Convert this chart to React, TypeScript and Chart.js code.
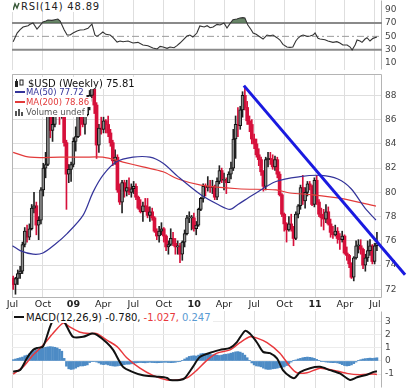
import React, { useEffect, useRef } from "react";
import { Chart, registerables } from "chart.js";
Chart.register(...registerables);

const FONT = '"DejaVu Sans", Verdana, sans-serif';

// ---------------- axis / category data ----------------
const START_DATE = "2008-07-01";
const FIRST_BAR_DATE = "2008-07-03";
const tickDates = ["2008-07-01", "2008-10-01", "2009-01-01", "2009-04-01", "2009-07-01", "2009-10-01", "2010-01-01", "2010-04-01", "2010-07-01", "2010-10-01", "2011-01-01", "2011-04-01", "2011-07-01"];
const tickLabels = ["Jul", "Oct", "09", "Apr", "Jul", "Oct", "10", "Apr", "Jul", "Oct", "11", "Apr", "Jul"];
const priceTicks = [72, 74, 76, 78, 80, 82, 84, 86, 88];
const rsiTicks = [10, 30, 50, 70, 90];
const macdTicks = [-1, 0, 1, 2, 3];

// ---------------- weekly candles ($USD) ----------------
const opens = [
  72.9, 72.4, 72.9, 73.3, 73.5, 75.7, 76.8, 76.3, 77.0, 78.7,
  78.9, 77.3, 77.7, 80.2, 82.0, 82.3, 86.4, 85.1, 85.6, 86.8,
  87.9, 86.4, 87.2, 84.1, 81.5, 81.9, 82.3, 84.2, 84.6, 86.3,
  86.0, 85.6, 86.4, 87.5, 88.0, 88.6, 87.2, 83.9, 85.3, 85.2,
  85.9, 85.6, 84.9, 84.1, 82.6, 82.9, 80.2, 79.2, 80.8, 80.1,
  80.4, 80.0, 80.3, 80.5, 79.6, 78.7, 78.4, 78.9, 78.8, 78.1,
  78.4, 77.9, 76.8, 76.4, 76.8, 77.0, 76.4, 75.5, 75.7, 76.2,
  75.8, 75.5, 75.6, 74.9, 75.9, 76.6, 77.9, 77.9, 77.9, 77.0,
  77.3, 78.6, 79.5, 80.5, 80.4, 80.5, 80.4, 80.4, 79.6, 80.9,
  81.8, 81.0, 81.0, 80.8, 81.5, 82.0, 84.4, 85.6, 85.5, 86.8,
  88.0, 87.0, 85.9, 85.6, 84.4, 84.0, 83.1, 82.7, 81.7, 80.5,
  82.7, 82.8, 82.7, 82.1, 82.7, 81.5, 79.8, 78.2, 77.4, 76.9,
  77.4, 77.0, 76.2, 78.2, 78.9, 80.4, 79.3, 80.0, 80.7, 80.5,
  79.0, 81.0, 79.2, 78.2, 77.9, 77.8, 78.4, 77.4, 76.7, 76.5,
  76.8, 76.2, 76.1, 76.4, 75.0, 74.8, 74.1, 73.0, 74.6, 75.6,
  75.6, 75.3, 74.0, 74.6, 75.2, 75.6, 74.3, 75.6,
];
const highs = [
  73.1, 73.0, 73.6, 73.9, 75.9, 77.1, 77.3, 77.4, 79.0, 80.0,
  79.2, 78.0, 80.4, 82.4, 83.3, 87.3, 87.0, 86.6, 87.6, 88.4,
  88.0, 88.0, 87.4, 84.3, 82.3, 82.5, 84.5, 85.4, 86.5, 86.7,
  87.0, 86.6, 88.0, 88.4, 89.0, 88.8, 87.4, 85.6, 86.2, 86.2,
  86.0, 86.3, 85.2, 84.3, 83.5, 83.1, 80.7, 81.0, 81.0, 81.0,
  81.2, 80.7, 80.9, 80.7, 79.7, 79.4, 79.2, 79.5, 79.5, 78.8,
  78.7, 78.0, 77.0, 77.2, 77.5, 77.1, 76.5, 76.0, 77.0, 76.7,
  76.2, 76.0, 75.8, 76.0, 76.9, 78.1, 78.4, 78.1, 78.3, 77.6,
  78.7, 79.6, 80.7, 80.7, 81.3, 81.0, 81.0, 80.6, 81.2, 82.2,
  82.0, 81.6, 81.2, 81.7, 82.5, 85.2, 86.3, 87.0, 87.1, 88.3,
  88.7, 87.5, 86.3, 86.0, 84.8, 84.4, 83.6, 82.9, 81.8, 82.9,
  83.3, 83.3, 83.1, 83.0, 82.9, 81.7, 79.9, 78.3, 77.5, 78.0,
  78.2, 77.2, 78.4, 79.0, 80.6, 81.4, 80.4, 80.9, 80.9, 80.6,
  81.2, 81.4, 79.4, 78.7, 78.6, 79.0, 78.8, 77.8, 77.2, 77.3,
  77.1, 76.6, 76.8, 76.5, 75.5, 74.9, 74.2, 74.7, 76.0, 76.1,
  76.1, 75.4, 74.9, 76.0, 76.1, 75.7, 75.8, 76.7,
];
const lows = [
  72.0, 71.6, 72.4, 72.9, 73.3, 75.5, 75.9, 76.1, 76.9, 78.3,
  76.5, 76.1, 77.4, 79.7, 81.2, 82.2, 84.5, 84.2, 85.4, 86.6,
  85.6, 86.1, 83.8, 78.6, 80.8, 80.9, 82.1, 83.4, 84.5, 84.7,
  85.4, 84.8, 86.3, 86.8, 87.8, 86.5, 82.8, 83.3, 84.8, 84.9,
  84.9, 84.6, 83.8, 82.2, 82.3, 80.0, 79.0, 78.3, 79.6, 79.7,
  79.8, 79.6, 79.9, 79.4, 78.6, 78.3, 77.6, 78.4, 77.9, 77.6,
  77.7, 76.7, 76.1, 75.9, 76.5, 75.9, 75.2, 74.9, 75.6, 75.6,
  74.9, 74.9, 74.2, 74.4, 75.5, 76.5, 77.5, 76.9, 76.8, 76.5,
  77.2, 78.5, 79.2, 79.7, 80.1, 80.0, 79.9, 79.4, 79.4, 80.7,
  80.8, 80.2, 79.9, 80.8, 81.1, 81.8, 82.8, 84.6, 85.2, 86.2,
  86.8, 85.6, 85.0, 84.0, 83.6, 82.9, 82.2, 81.4, 80.1, 80.2,
  82.1, 82.3, 81.9, 81.8, 81.2, 79.7, 78.0, 76.8, 75.9, 76.8,
  76.8, 75.6, 76.1, 77.9, 78.6, 79.0, 78.7, 79.7, 80.2, 78.9,
  78.8, 79.0, 78.0, 77.2, 76.9, 77.5, 77.3, 76.3, 76.2, 76.4,
  75.8, 75.3, 75.9, 74.9, 74.4, 73.8, 72.9, 72.7, 74.5, 75.0,
  74.9, 73.7, 73.5, 74.3, 74.8, 74.1, 74.1, 75.2,
];
const closes = [
  72.4, 72.9, 73.3, 73.5, 75.7, 76.8, 76.3, 77.0, 78.7, 78.9,
  77.3, 77.7, 80.2, 82.0, 82.3, 86.4, 85.1, 85.6, 86.8, 87.9,
  86.4, 87.2, 84.1, 81.5, 81.9, 82.3, 84.2, 84.6, 86.3, 86.0,
  85.6, 86.4, 87.5, 88.0, 88.6, 87.2, 83.9, 85.3, 85.2, 85.9,
  85.6, 84.9, 84.1, 82.6, 82.9, 80.2, 79.2, 80.8, 80.1, 80.4,
  80.0, 80.3, 80.5, 79.6, 78.7, 78.4, 78.9, 78.8, 78.1, 78.4,
  77.9, 76.8, 76.4, 76.8, 77.0, 76.4, 75.5, 75.7, 76.2, 75.8,
  75.5, 75.6, 74.9, 75.9, 76.6, 77.9, 77.9, 77.9, 77.0, 77.3,
  78.6, 79.5, 80.5, 80.4, 80.5, 80.4, 80.4, 79.6, 80.9, 81.8,
  81.0, 81.0, 80.8, 81.5, 82.0, 84.4, 85.6, 85.5, 86.8, 88.0,
  87.0, 85.9, 85.6, 84.4, 84.0, 83.1, 82.7, 81.7, 80.5, 82.7,
  82.8, 82.7, 82.1, 82.7, 81.5, 79.8, 78.2, 77.4, 76.9, 77.4,
  77.0, 76.2, 78.2, 78.9, 80.4, 79.3, 80.0, 80.7, 80.5, 79.0,
  81.0, 79.2, 78.2, 77.9, 77.8, 78.4, 77.4, 76.7, 76.5, 76.8,
  76.2, 76.1, 76.4, 75.0, 74.8, 74.1, 73.0, 74.6, 75.6, 75.6,
  75.3, 74.0, 74.6, 75.2, 75.6, 74.3, 75.6, 75.81,
];

// ---------------- moving averages (day offset, value) ----------------
const ma50Days = [0, 23, 62, 92, 128, 165, 213, 243, 273, 313, 364, 415, 455, 500, 569, 621, 657, 681, 727, 796, 869, 932, 983, 1023, 1065, 1098];
const ma50Values = [75.6, 75.2, 74.9, 75.0, 75.7, 76.6, 78.1, 80.0, 81.4, 82.5, 82.9, 82.9, 82.4, 81.3, 79.8, 79.0, 78.6, 79.0, 79.8, 80.9, 81.3, 81.4, 81.1, 80.3, 78.7, 77.72];
const ma200Days = [2, 53, 144, 213, 273, 334, 394, 455, 500, 569, 681, 796, 838, 908, 992, 1098];
const ma200Values = [83.3, 82.9, 82.9, 82.9, 82.9, 82.5, 82.1, 81.7, 81.1, 80.6, 80.3, 80.2, 79.95, 79.8, 79.5, 78.86];

// trend line (day offset, value)
const trendDays = [699, 1186];
const trendValues = [88.8, 73.2];

// ---------------- RSI(14) ----------------
const rsiDays = [2, 14, 23, 32, 47, 53, 62, 74, 83, 92, 101, 107, 119, 128, 137, 144, 156, 165, 174, 183, 195, 204, 216, 228, 240, 249, 255, 264, 273, 282, 295, 304, 316, 325, 334, 349, 364, 379, 394, 409, 424, 437, 446, 455, 467, 476, 488, 497, 506, 515, 527, 536, 545, 557, 566, 579, 588, 597, 606, 618, 627, 639, 648, 657, 666, 678, 687, 696, 702, 711, 721, 727, 736, 748, 757, 769, 778, 787, 799, 808, 817, 829, 838, 847, 856, 863, 872, 878, 890, 899, 908, 914, 923, 929, 944, 953, 968, 980, 989, 998, 1011, 1020, 1026, 1035, 1041, 1050, 1056, 1065, 1071, 1080, 1089, 1101];
const rsiValues = [42, 55, 60, 64, 66, 68, 70, 61, 66, 71.5, 73, 74.5, 74, 75, 76, 73, 60, 52, 52, 55, 58, 59.5, 60, 62, 68.5, 52, 50, 53, 56.5, 53, 52, 48, 41.5, 43, 42, 43, 40, 41, 37, 36, 32.5, 31, 35, 34, 32, 34, 33, 36, 40, 44.5, 50.5, 52, 49, 55, 65.5, 64, 66, 63, 64, 68, 67, 70, 62.5, 69, 75, 76, 77.5, 78, 77.5, 67, 60, 55, 53, 49, 46, 52, 51, 52, 48, 44.5, 38, 34, 33.5, 34, 43, 47.5, 51, 52, 50, 50.5, 52, 55, 47, 46, 45, 43, 41, 42, 40, 37, 37, 34, 29.5, 37, 44.5, 43, 41, 46, 48, 43, 47, 48.89];

// ---------------- MACD(12,26,9) ----------------
const macdDays = [2, 23, 44, 62, 74, 92, 113, 122, 137, 150, 159, 165, 183, 213, 240, 255, 285, 304, 334, 364, 394, 437, 467, 476, 506, 521, 545, 566, 606, 627, 657, 678, 702, 717, 739, 757, 778, 799, 817, 839, 853, 869, 899, 929, 959, 989, 1020, 1041, 1071, 1089, 1101];
const macdValues = [-0.82, -0.69, 0.23, 0.84, 1.0, 1.1, 2.6, 3.1, 3.4, 3.2, 2.9, 2.6, 1.85, 1.85, 2.1, 2.0, 1.4, 0.85, -0.45, -0.85, -1.1, -1.2, -1.3, -1.45, -1.45, -1.3, -0.45, 0.3, 0.7, 0.85, 1.0, 1.45, 2.3, 2.1, 1.4, 0.7, 0.6, 0.2, -0.7, -1.2, -1.3, -0.85, -0.55, -0.45, -0.7, -0.95, -1.45, -1.25, -1.05, -0.85, -0.78];
const signalDays = [2, 32, 62, 92, 122, 153, 174, 204, 234, 255, 285, 316, 346, 385, 424, 467, 497, 527, 557, 588, 618, 657, 687, 717, 739, 769, 808, 839, 859, 890, 929, 968, 1010, 1050, 1089, 1101];
const signalValues = [-1.0, -0.45, 0.45, 1.2, 2.1, 2.9, 2.6, 2.2, 2.1, 2.1, 1.6, 1.1, 0.23, -0.55, -1.1, -1.45, -1.45, -1.3, -0.7, 0.07, 0.6, 0.85, 1.4, 1.85, 1.75, 1.4, 0.6, -0.45, -0.9, -0.9, -0.55, -0.7, -0.95, -1.05, -1.0, -1.03];
const histValues = [
  0.1, 0.15, 0.2, 0.25, 0.3, 0.4, 0.45, 0.55, 0.7, 0.78,
  0.85, 0.9, 0.95, 1.0, 1.05, 1.08, 1.1, 1.08, 1.05, 1.0,
  0.9, 0.75, 0.2, -0.4, -0.6, -0.65, -0.62, -0.55, -0.45, -0.38,
  -0.38, -0.35, -0.3, -0.12, -0.05, -0.03, -0.08, -0.15, -0.25, -0.28,
  -0.25, -0.3, -0.35, -0.38, -0.4, -0.38, -0.35, -0.3, -0.28, -0.25,
  -0.25, -0.22, -0.2, -0.15, -0.13, -0.12, -0.13, -0.14, -0.12, -0.1,
  -0.12, -0.13, -0.14, -0.13, -0.12, -0.1, -0.1, -0.12, -0.13, -0.12,
  -0.1, -0.06, -0.02, 0.05, 0.15, 0.25, 0.35, 0.38, 0.4, 0.38,
  0.45, 0.55, 0.58, 0.56, 0.55, 0.5, 0.48, 0.5, 0.45, 0.42,
  0.45, 0.5, 0.52, 0.55, 0.6, 0.65, 0.7, 0.72, 0.68, 0.6,
  0.45, 0.25, 0.05, -0.15, -0.3, -0.38, -0.4, -0.45, -0.55, -0.62,
  -0.65, -0.64, -0.6, -0.58, -0.55, -0.5, -0.5, -0.45, -0.35, -0.2,
  -0.08, 0.02, 0.08, 0.15, 0.2, 0.25, 0.28, 0.3, 0.28, 0.25,
  0.2, 0.12, 0.05, -0.02, -0.05, -0.08, -0.1, -0.12, -0.13, -0.12,
  -0.15, -0.2, -0.28, -0.35, -0.38, -0.36, -0.3, -0.2, -0.08, 0.02,
  0.1, 0.15, 0.18, 0.2, 0.22, 0.2, 0.22, 0.247,
];

// ---------------- helpers ----------------
const DAY_MS = 86400000;
const dayOf = (d: string) => (Date.parse(d) - Date.parse(START_DATE)) / DAY_MS;
const barDay = (i: number) => dayOf(FIRST_BAR_DATE) + 7 * i;
const tickDays = tickDates.map(dayOf);
const isYearLabel = (i: number) => /^\d\d$/.test(tickLabels[i] || "");
const X_MIN = -1.5;
const X_MAX = 1116.3;
const zip = (xs: number[], ys: number[]) => xs.map((x, i) => ({ x, y: ys[i] }));

const GRID = "#dedede";
const RED = "#d6103b";
const MA50_COLOR = "#34349a";
const MA200_COLOR = "#e23a3a";

function makeFrame(sides: { top?: boolean; right?: boolean; bottom?: boolean; left?: boolean }) {
  return {
    id: "frame",
    beforeDatasetsDraw(chart: any) {
      const { ctx, chartArea: a } = chart;
      const l = a.left + 0.5, r = a.right - 0.5, t = a.top + 0.5, b = a.bottom - 0.5;
      ctx.save();
      ctx.strokeStyle = "#b4b4b4";
      ctx.lineWidth = 1;
      ctx.beginPath();
      if (sides.top) { ctx.moveTo(l, t); ctx.lineTo(r, t); }
      if (sides.right) { ctx.moveTo(r, t); ctx.lineTo(r, b); }
      if (sides.bottom) { ctx.moveTo(l, b); ctx.lineTo(r, b); }
      if (sides.left) { ctx.moveTo(l, t); ctx.lineTo(l, b); }
      ctx.stroke();
      ctx.restore();
    },
  };
}

function xScale(showLabels: boolean) {
  return {
    type: "linear",
    min: X_MIN,
    max: X_MAX,
    offset: false,
    afterBuildTicks: (ax: any) => {
      ax.ticks = tickDays.map((v) => ({ value: v }));
    },
    afterFit: (s: any) => {
      s.height = showLabels ? 14 : 0;
      s.paddingLeft = 0;
      s.paddingRight = 0;
    },
    grid: { color: GRID, drawTicks: false, offset: false },
    border: { display: false },
    ticks: {
      display: showLabels,
      autoSkip: false,
      maxRotation: 0,
      minRotation: 0,
      padding: 1,
      color: "#222",
      font: (ctx: any) => ({ family: FONT, size: 9.5, weight: isYearLabel(ctx.index) ? "bold" : "normal" }),
      callback: (_v: any, i: number) => tickLabels[i],
    },
  };
}

function yScale(min: number, max: number, ticks: number[], gridColor: string) {
  return {
    type: "linear",
    position: "right",
    min,
    max,
    beginAtZero: false,
    bounds: "data",
    afterBuildTicks: (ax: any) => {
      ax.ticks = ticks.map((v) => ({ value: v }));
    },
    afterFit: (s: any) => {
      s.width = 27;
      s.paddingTop = 0;
      s.paddingBottom = 0;
    },
    grid: { color: gridColor, drawTicks: false },
    border: { display: false },
    ticks: { color: "#444", padding: 3, font: { family: FONT, size: 9 } },
  };
}

const common = {
  responsive: false,
  maintainAspectRatio: false,
  animation: false,
  events: [],
  plugins: { legend: { display: false }, tooltip: { enabled: false } },
};

export default function App() {
  const rsiRef = useRef<HTMLCanvasElement>(null);
  const priceRef = useRef<HTMLCanvasElement>(null);
  const macdRef = useRef<HTMLCanvasElement>(null);

  useEffect(() => {
    Chart.defaults.font.family = FONT;
    const charts: Chart[] = [];

    // ---- RSI ----
    const flat = (v: number) => [{ x: X_MIN, y: v }, { x: X_MAX, y: v }];
    charts.push(
      new Chart(rsiRef.current as HTMLCanvasElement, {
        type: "line",
        data: {
          datasets: [
            {
              data: zip(rsiDays, rsiValues),
              borderColor: "#333",
              borderWidth: 1.1,
              pointRadius: 0,
              fill: { target: { value: 70 }, above: "rgba(78,112,78,0.85)", below: "rgba(0,0,0,0)" },
            } as any,
            { data: flat(70), borderColor: "#8a8a8a", borderWidth: 2, pointRadius: 0 },
            { data: flat(30), borderColor: "#8a8a8a", borderWidth: 2, pointRadius: 0 },
            { data: flat(50), borderColor: "#9a9a9a", borderWidth: 1, pointRadius: 0, borderDash: [7, 3, 2, 3] },
          ],
        },
        options: {
          ...common,
          layout: { padding: { left: 12, right: 0, top: 0, bottom: 2 } },
          scales: {
            x: xScale(false),
            y: yScale(-0.45, 104.5, rsiTicks, "rgba(0,0,0,0)"),
          },
        } as any,
        plugins: [makeFrame({ right: true })],
      })
    );

    // ---- Price ----
    const upBody: any[] = [], downBody: any[] = [], upWick: any[] = [], downWick: any[] = [];
    closes.forEach((c, i) => {
      const x = barDay(i);
      const up = c >= opens[i];
      (up ? upBody : downBody).push({ x, y: [opens[i], c] });
      (up ? upWick : downWick).push({ x, y: [lows[i], highs[i]] });
    });
    charts.push(
      new Chart(priceRef.current as HTMLCanvasElement, {
        type: "bar",
        data: {
          datasets: [
            {
              type: "line",
              data: zip(trendDays, trendValues),
              borderColor: "#1a1ae0",
              borderWidth: 3,
              pointRadius: 0,
              clip: false,
            } as any,
            { type: "line", data: zip(ma50Days, ma50Values), borderColor: MA50_COLOR, borderWidth: 1.2, pointRadius: 0, tension: 0.3 } as any,
            { type: "line", data: zip(ma200Days, ma200Values), borderColor: MA200_COLOR, borderWidth: 1.2, pointRadius: 0, tension: 0.3 } as any,
            { data: upBody, backgroundColor: "#8e8e8e", borderColor: "#111", borderWidth: 1, borderSkipped: false, barThickness: 3, grouped: false, minBarLength: 1 } as any,
            { data: downBody, backgroundColor: RED, borderColor: RED, borderWidth: 0, borderSkipped: false, barThickness: 3, grouped: false, minBarLength: 1 } as any,
            { data: upWick, backgroundColor: "#222", borderWidth: 0, barThickness: 1, grouped: false } as any,
            { data: downWick, backgroundColor: RED, borderWidth: 0, barThickness: 1, grouped: false } as any,
          ],
        },
        options: {
          ...common,
          layout: { padding: { left: 12, right: 0, top: 10, bottom: 0 } },
          scales: {
            x: xScale(true),
            y: yScale(71.29, 89.76, priceTicks, GRID),
          },
        } as any,
        plugins: [makeFrame({ top: true, right: true, bottom: true, left: true })],
      })
    );

    // ---- MACD ----
    charts.push(
      new Chart(macdRef.current as HTMLCanvasElement, {
        type: "bar",
        data: {
          datasets: [
            { type: "line", data: zip(macdDays, macdValues), borderColor: "#111", borderWidth: 2, pointRadius: 0, tension: 0.25 } as any,
            { type: "line", data: zip(signalDays, signalValues), borderColor: "#e8383c", borderWidth: 1.5, pointRadius: 0, tension: 0.25 } as any,
            {
              data: histValues.map((v, i) => ({ x: barDay(i), y: v })),
              backgroundColor: "#4d8bc5",
              borderWidth: 0,
              barThickness: 2,
              grouped: false,
            } as any,
          ],
        },
        options: {
          ...common,
          layout: { padding: { left: 12, right: 0, top: 0, bottom: 0 } },
          scales: {
            x: xScale(false),
            y: yScale(-2.07, 3.83, macdTicks, "#ececec"),
          },
        } as any,
        plugins: [makeFrame({ right: true })],
      })
    );

    return () => charts.forEach((c) => c.destroy());
  }, []);

  const legendBox: React.CSSProperties = {
    position: "absolute",
    background: "#fff",
    whiteSpace: "nowrap",
    fontFamily: FONT,
    display: "flex",
    alignItems: "center",
    padding: "0 2px 0 1px",
  };
  const dash = (color: string, h = 2): React.CSSProperties => ({
    display: "inline-block",
    width: 10,
    height: h,
    background: color,
    marginRight: 1,
  });

  return (
    <div style={{ position: "fixed", left: 0, top: 0, width: 409, height: 388, background: "#fff", overflow: "hidden" }}>
      <canvas ref={rsiRef} width={409} height={72} style={{ position: "absolute", left: 0, top: 0 }} />
      <canvas ref={priceRef} width={409} height={248} style={{ position: "absolute", left: 0, top: 64 }} />
      <canvas ref={macdRef} width={409} height={77} style={{ position: "absolute", left: 0, top: 311 }} />

      {/* RSI legend */}
      <div style={{ ...legendBox, left: 12, top: 0, height: 12, fontSize: 10, letterSpacing: 0.8, color: "#222" }}>
        <svg width="7" height="9" style={{ marginRight: 1 }}>
          <polyline points="0,8 2,2 4,6 6,1" fill="none" stroke="#3a5a3a" strokeWidth="1.5" />
        </svg>
        <span>RSI(14) 48.89</span>
      </div>

      {/* Price legend */}
      <div style={{ ...legendBox, left: 13, top: 77, height: 12, fontSize: 10, color: "#111" }}>
        <svg width="11" height="9" style={{ marginRight: 3 }}>
          <rect x="1" y="2" width="3" height="6" fill="#222" />
          <line x1="2.5" y1="0" x2="2.5" y2="9" stroke="#222" />
          <rect x="6" y="1" width="3" height="5" fill="#fff" stroke="#222" strokeWidth="1" />
        </svg>
        <span>$USD (Weekly) 75.81</span>
      </div>
      <div style={{ ...legendBox, left: 14, top: 87, height: 10, fontSize: 8.5, color: MA50_COLOR }}>
        <span style={dash(MA50_COLOR)} />
        <span>MA(50) 77.72</span>
      </div>
      <div style={{ ...legendBox, left: 14, top: 97, height: 10, fontSize: 8.5, color: MA200_COLOR }}>
        <span style={dash(MA200_COLOR)} />
        <span>MA(200) 78.86</span>
      </div>
      <div style={{ ...legendBox, left: 14, top: 107, height: 10, fontSize: 8.5, color: "#555" }}>
        <svg width="10" height="8" style={{ marginRight: 1 }}>
          <rect x="0" y="3" width="2" height="5" fill="#555" />
          <rect x="3" y="1" width="2" height="7" fill="#555" />
          <rect x="6" y="4" width="2" height="4" fill="#555" />
        </svg>
        <span>Volume undef</span>
      </div>

      {/* MACD legend */}
      <div style={{ ...legendBox, left: 13, top: 311, height: 12, fontSize: 10, color: "#111" }}>
        <span style={{ ...dash("#111", 2.5), marginRight: 2 }} />
        <span>MACD(12,26,9) -0.780,</span>
        <span style={{ color: "#e8383c", marginLeft: 3 }}>-1.027,</span>
        <span style={{ color: "#5a9ad2", marginLeft: 3 }}>0.247</span>
      </div>
    </div>
  );
}
